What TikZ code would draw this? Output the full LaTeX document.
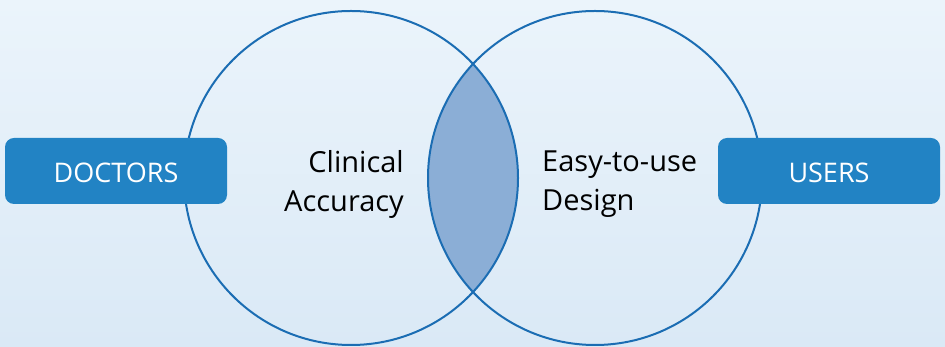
\documentclass[tikz,border=0pt]{standalone}
\usepackage{fontspec}
\setsansfont{Open Sans}
\usetikzlibrary{positioning}
\definecolor{bgtop}{HTML}{EBF4FB}
\definecolor{bgbottom}{HTML}{DAE9F6}
\definecolor{ringblue}{HTML}{1B6DB3}
\definecolor{boxblue}{HTML}{2283C4}
\definecolor{lensblue}{HTML}{8BAED6}

\begin{document}
\begin{tikzpicture}[x=1pt, y=1pt,
  set/.style = {draw=ringblue, line width=2pt, circle,
    minimum size=334pt, inner sep=0pt},
  group/.style = {fill=boxblue, rounded corners=9pt, minimum width=222pt,
    minimum height=66pt, text=white, inner sep=0pt,
    text height=23pt, text depth=0pt,
    font=\sffamily\fontsize{27}{33}\selectfont},
  settext/.style = {font=\sffamily\fontsize{29}{39}\selectfont,
    text=black, inner sep=0pt}]
  % background
  \shade[top color=bgtop, bottom color=bgbottom] (0,0) rectangle (945,347);
  \coordinate (cl) at (351,169);
  \coordinate (cr) at (595,169);
  % overlap
  \begin{scope}
    \clip (cl) circle (167);
    \fill[lensblue] (cr) circle (167);
  \end{scope}
  \node[set] (leftset) at (cl) {};
  \node[set] (rightset) at (cr) {};
  \node[group] (doctors) at (116,176) {DOCTORS};
  \node[group] (users) at (829,176) {USERS};
  \node[settext, align=right, anchor=east] (accuracy) at (404,163) {Clinical\\Accuracy};
  \node[settext, align=left, anchor=west] (design) at (542,163) {Easy-to-use\\Design};
\end{tikzpicture}
\end{document}
